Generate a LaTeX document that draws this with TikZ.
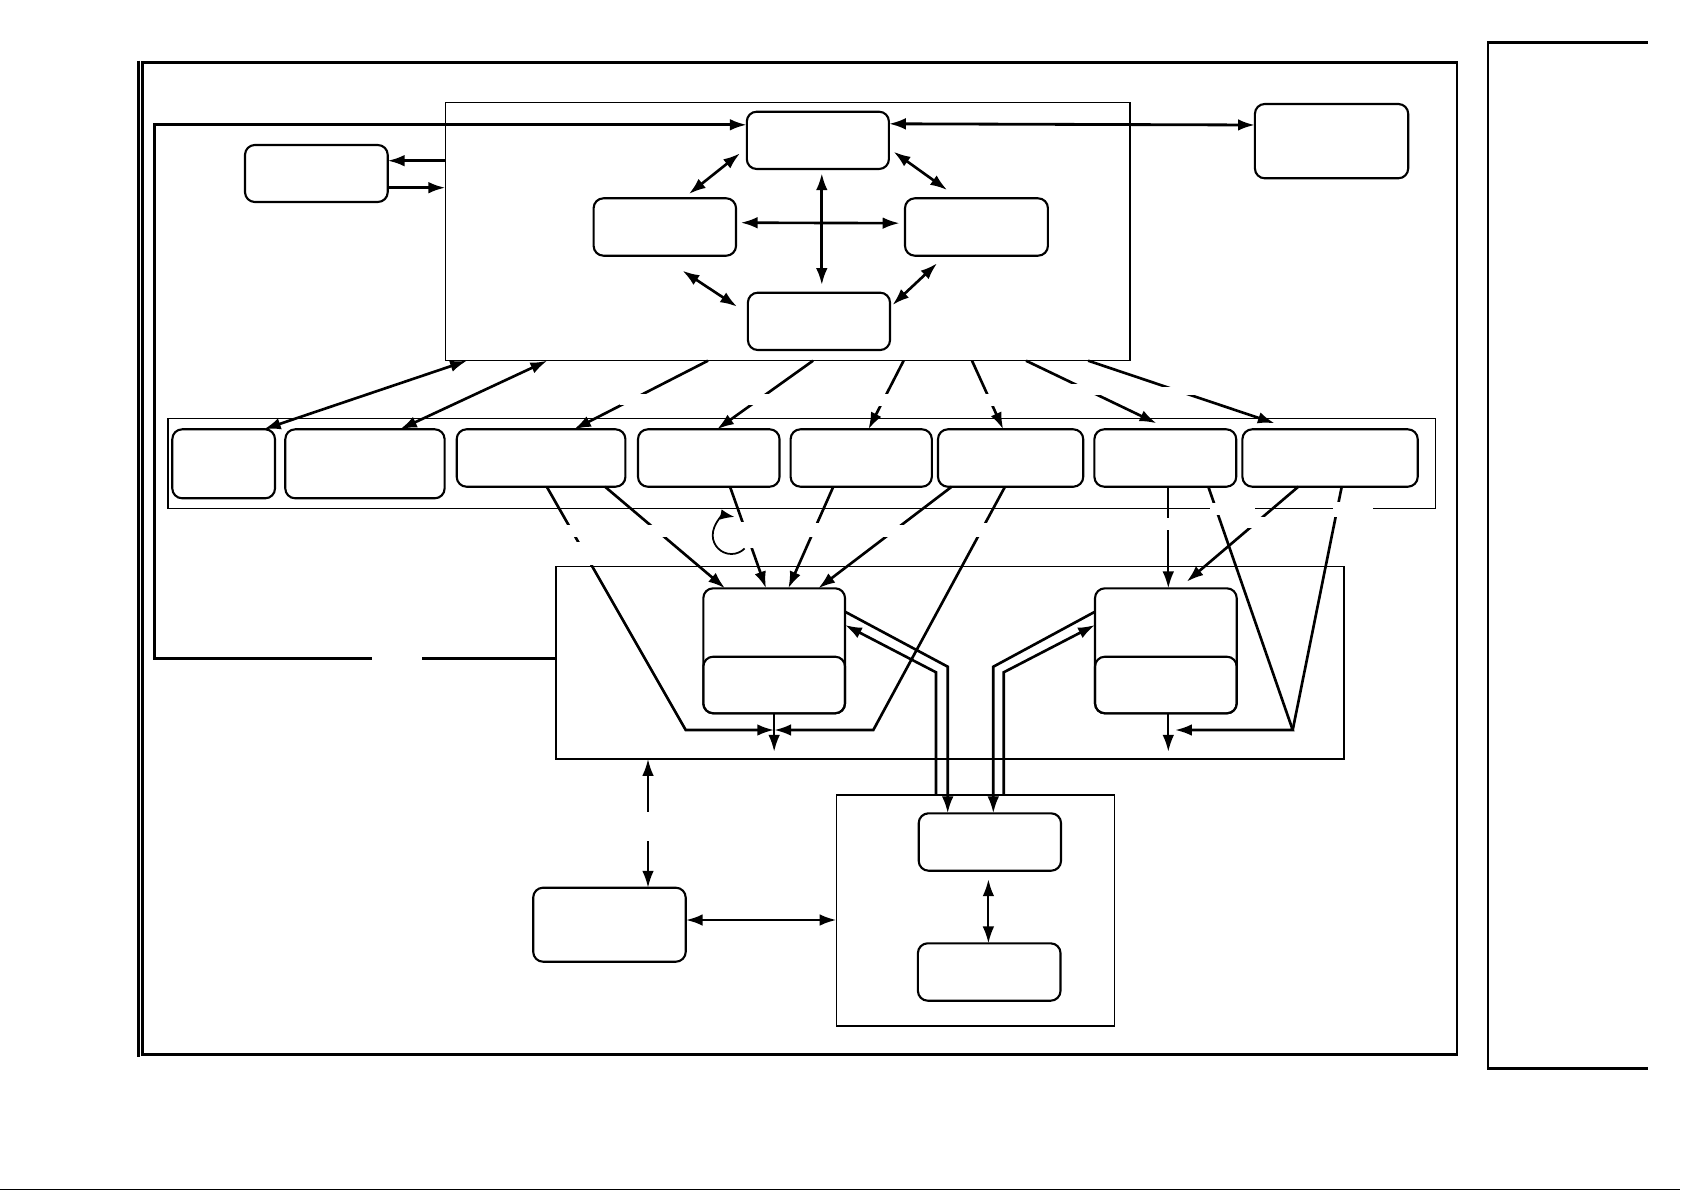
\documentclass[tikz,border=0pt]{standalone}
\usetikzlibrary{arrows.meta,calc}
\newcommand\mkbox[6]{\node[#1,minimum width={(#5-#3)*0.01cm},minimum height={(#6-#4)*0.01cm}] (#2) at ({(#3+#5)/2},{(#4+#6)/2}) {};}
\newcommand\mkmask[4]{\fill[white] (#1,#2) rectangle (#3,#4);}
\begin{document}
\begin{tikzpicture}[x=0.01cm,y=-0.01cm,
  box/.style={draw,line width=0.6pt,rounded corners=2.8pt,inner sep=0pt,outer sep=0pt},
  cont/.style={draw,line width=0.35pt,inner sep=0pt,outer sep=0pt},
  conn/.style={line width=0.75pt},
  frm/.style={line width=0.8pt},
  >={Latex[length=4.8pt,width=3.3pt]}]
\useasboundingbox (0,0) rectangle (1685,1191);

% frame
\draw[frm] (142.7,62.7) rectangle (1457,1054.3);
\draw[line width=0.75pt] (138.6,60.7) -- (138.6,1056.5);
\draw[frm] (1647.8,42.7) -- (1488,42.7) -- (1488,1068.3) -- (1647.5,1068.3);
\draw[line width=0.3pt] (0,1189.8) -- (1680,1189.8);

% containers
\mkbox{cont}{C1}{445.3}{102.3}{1130}{360.7}
\mkbox{cont}{C2}{167.9}{418.3}{1435.2}{508.3}
\mkbox{cont}{C3}{556}{566.3}{1344}{759}
\mkbox{cont}{C4}{836.6}{795}{1114.4}{1026}

% boxes
\mkbox{box}{T}{746.8}{111.7}{888.9}{169}
\mkbox{box}{L}{593.6}{198.3}{736}{255.7}
\mkbox{box}{R}{905}{198.3}{1047.9}{255.7}
\mkbox{box}{B}{747.9}{292.7}{890}{350}
\mkbox{box}{S}{245}{145}{387.7}{202}
\mkbox{box}{TR}{1254.9}{104}{1408.2}{178.3}
\mkbox{box}{M1}{172.3}{429.3}{275}{498.3}
\mkbox{box}{M2}{285.3}{429.3}{444.6}{498.3}
\mkbox{box}{M3}{456.7}{429.3}{625.4}{486.7}
\mkbox{box}{M4}{638}{429.3}{779.5}{486.7}
\mkbox{box}{M5}{790.6}{429.3}{931.8}{486.7}
\mkbox{box}{M6}{938}{429.3}{1083.2}{486.7}
\mkbox{box}{M7}{1094.4}{429.3}{1236.2}{486.7}
\mkbox{box}{M8}{1242.4}{429.3}{1417.7}{486.7}
\mkbox{box}{P}{703.3}{588.3}{845}{713.3}
\mkbox{box}{Pd}{703.3}{656.7}{845}{713.3}
\mkbox{box}{Q}{1095}{588.3}{1236.7}{713.3}
\mkbox{box}{Qd}{1095}{656.7}{1236.7}{713.3}
\mkbox{box}{W}{533.2}{887.7}{685.7}{961.7}
\mkbox{box}{X}{918.7}{813.3}{1061}{870.7}
\mkbox{box}{Y}{917.9}{943.3}{1060.5}{1000.7}

% top area connectors
\draw[conn,->] (C1.west |- 0,160.7) -- (S.east |- 0,160.7);
\draw[conn,->] (S.east |- 0,187.7) -- (C1.west |- 0,187.7);
\draw[frm,->] (C3.west |- 0,658.5) -- (154.7,658.5) -- (154.7,124.8) -- (T.west |- 0,124.8);
\draw[frm,<->] (T.east |- 0,123.8) -- (TR.west |- 0,125);
\draw[conn,<->] ($(T.south west)+(-6.8,-15.7)$) -- ($(L.north east)+(-47.1,-4.3)$);
\draw[conn,<->] ($(T.south east)+(4.7,-17.3)$) -- ($(R.north west)+(42.1,-8.3)$);
\draw[conn,<->] ($(L.east)+(4.7,-4.3)$) -- ($(R.west)+(-5.4,-3.8)$);
\draw[conn,<->] ($(T.south)+(3.95,4.3)$) -- ($(B.north)+(2.85,-7.7)$);
\draw[conn,<->] ($(L.south east)+(-53.5,15)$) -- ($(B.west)+(-10.8,-14.65)$);
\draw[conn,<->] ($(R.south west)+(32.1,7.6)$) -- ($(B.east)+(2.5,-16.35)$);

% container to row
\draw[conn,<->] (467,0 |- C1.south) -- (263.8,0 |- M1.north);
\draw[conn,<->] (547.3,0 |- C1.south) -- (400,0 |- M2.north);
\draw[conn,->] (708,0 |- C1.south) -- (574,0 |- M3.north);
\draw[conn,->] (813,0 |- C1.south) -- (717,0 |- M4.north);
\draw[conn,->] (903.6,0 |- C1.south) -- (868.4,0 |- M5.north);
\draw[conn,->] (972,0 |- C1.south) -- (1003.2,0 |- M6.north);
\draw[conn,->] (1026,0 |- C1.south) -- ($(1156.5,0 |- M7.north)+(0,-6)$);
\draw[conn,->] (1088.1,0 |- C1.south) -- ($(1274.7,0 |- M8.north)+(0,-6)$);

% row to P
\coordinate (fl) at (685.7,730);
\coordinate (fr) at (873.3,730);
\draw[conn,->] (546.7,0 |- M3.south) -- (fl) -- (P.south |- fl);
\draw[conn,->] (1005,0 |- M6.south) -- (fr) -- (P.south |- fr);
\draw[conn,->] (605,0 |- M3.south) -- (725,0 |- P.north);
\draw[conn,->] (730,0 |- M4.south) -- (766,0 |- P.north);
\draw[conn,->] (833.3,0 |- M5.south) -- (788.3,0 |- P.north);
\draw[conn,->] (951.7,0 |- M6.south) -- (818.3,0 |- P.north);
\draw[line width=0.6pt,->] (P.south) -- ++(0,38.4);

% row to Q
\coordinate (vv) at (1292.7,730);
\draw[line width=0.6pt,->] (1168.3,0 |- M7.south) -- (1168.3,0 |- Q.north);
\draw[conn,->] (1298.3,0 |- M8.south) -- ($(1186.7,0 |- Q.north)+(0,-6.6)$);
\draw[conn,->] (1208.3,0 |- M7.south) -- (vv) -- (1175,0 |- vv);
\draw[conn] (1341.7,0 |- M8.south) -- (vv);
\draw[line width=0.6pt,->] (1168.3,0 |- Q.south) -- ++(0,38.4);

% double lines to X
\draw[conn,->] (P.east |- 0,611.7) -- (947.7,666.7) -- (947.7,0 |- X.north);
\draw[conn,->] (936,0 |- C4.north) -- (936,672.3) -- (P.east |- 0,625);
\draw[conn,->] (Q.west |- 0,611.7) -- (993.3,666.7) -- (993.3,0 |- X.north);
\draw[conn,->] (1003.7,0 |- C4.north) -- (1003.7,672.3) -- (Q.west |- 0,625);

% bottom
\draw[line width=0.6pt,<->] ($(988.4,0 |- X.south)+(0,8.6)$) -- (988.4,0 |- Y.north);
\draw[frm,<->] (W.east |- 0,920) -- (C4.west |- 0,920);
\draw[line width=0.6pt,<->] (648,0 |- C3.south) -- (648,0 |- W.north);

% label gaps
\mkmask{620}{394}{650}{405}
\mkmask{744}{394}{773}{405}
\mkmask{874}{394}{893}{406}
\mkmask{981}{394}{999}{406}
\mkmask{1066}{383.5}{1102}{395}
\mkmask{1158}{386.5}{1195}{395}
\mkmask{560}{525}{584}{537}
\mkmask{571}{542}{598}{565}
\mkmask{645}{525}{671}{537}
\mkmask{738}{521.7}{757}{548.3}
\mkmask{805}{523.3}{823}{536.7}
\mkmask{880}{525}{906}{536.7}
\mkmask{970}{523.3}{992}{536.7}
\mkmask{1160}{518.3}{1177}{530}
\mkmask{1210}{503}{1255}{515}
\mkmask{1244}{516.7}{1268}{528.3}
\mkmask{1333}{501.7}{1373}{516.7}
\mkmask{640}{812}{656}{841}
\mkmask{372}{649}{422}{668}

% loop
\draw[line width=0.5pt,-{Latex[length=4pt,width=3pt]}] (744.6,548.5) .. controls (741.1,552) and (736.4,554) .. (731.4,554)
  .. controls (721.1,554) and (712.7,545.6) .. (712.7,535.3)
  .. controls (712.7,523.7) and (723.1,514.9) .. (734.6,516.9);
\end{tikzpicture}
\end{document}
